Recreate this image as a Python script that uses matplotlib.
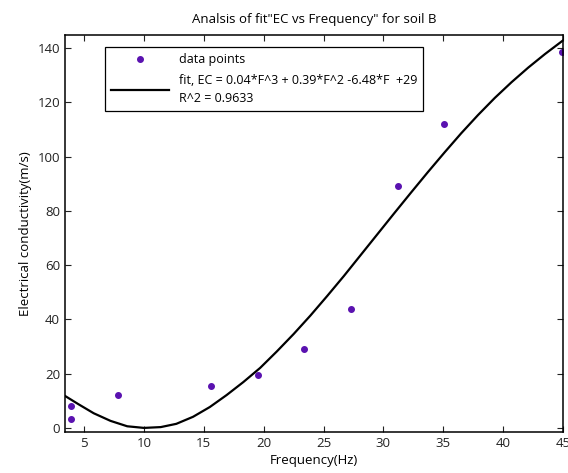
import numpy as np
import matplotlib
matplotlib.use('Agg')
import matplotlib.pyplot as plt

plt.rcParams['font.family'] = ['Open Sans', 'DejaVu Sans']

# measured points (Hz, m/s)
freq = [3.9, 3.9, 7.8, 15.6, 19.5, 23.4, 27.3, 31.2, 35.1, 44.9]
ec = [7.9, 3.3, 12.3, 15.3, 19.4, 28.9, 43.8, 89.2, 111.9, 138.4]

# fitted curve
fit_f = [3.4, 4.5, 5.8, 7.2, 8.6, 10, 11.4, 12.7, 14.1, 15.5, 16.9, 18.3,
         19.7, 21.1, 22.5, 23.9, 25.3, 26.7, 28.1, 29.5, 30.9, 32.3, 33.7,
         35.1, 36.5, 37.9, 39.3, 40.7, 42.1, 43.5, 45]
fit_ec = [11.8, 8.8, 5.4, 2.6, 0.6, 0.0, 0.3, 1.5, 4.1, 7.7, 12.1, 16.9,
          22.1, 28.2, 34.6, 41.4, 48.6, 56.0, 63.7, 71.4, 79.1, 86.7, 94.2,
          101.5, 108.6, 115.3, 121.6, 127.4, 132.8, 137.8, 142.8]

fit_label = 'fit, EC = 0.04*F^3 + 0.39*F^2 -6.48*F  +29\nR^2 = 0.9633'

fig = plt.figure(figsize=(5.68, 4.73), dpi=100)
ax = fig.add_axes([0.1144, 0.0873, 0.8768, 0.8387])

ax.plot(freq, ec, 'o', color='#5a12b0', markersize=4, label='data points')
ax.plot(fit_f, fit_ec, '-', color='black', linewidth=1.6, label=fit_label)

ax.set_xlim(3.4, 45)
ax.set_ylim(-1.4, 144.8)
ax.set_xticks(np.arange(5, 46, 5))
ax.set_yticks(np.arange(0, 141, 20))
ax.tick_params(direction='in', top=True, right=True, length=4, width=0.8,
               labelsize=9.5, colors='#222222')
for s in ax.spines.values():
    s.set_linewidth(1.1)

ax.set_title('Analsis of fit"EC vs Frequency" for soil B', fontsize=9.5, pad=9)
ax.set_xlabel('Frequency(Hz)', fontsize=9.5, labelpad=3)
ax.set_ylabel('Electrical conductivity(m/s)', fontsize=9.5, labelpad=4)

leg = ax.legend(loc='upper left', bbox_to_anchor=(0.08, 0.97), borderaxespad=0,
                fontsize=9, handlelength=4.6, fancybox=False, framealpha=1,
                edgecolor='black', borderpad=0.5, labelspacing=0.6)
leg.get_frame().set_linewidth(0.9)
leg.get_texts()[1].set_linespacing(1.5)

fig.savefig('out.png', dpi=100)
